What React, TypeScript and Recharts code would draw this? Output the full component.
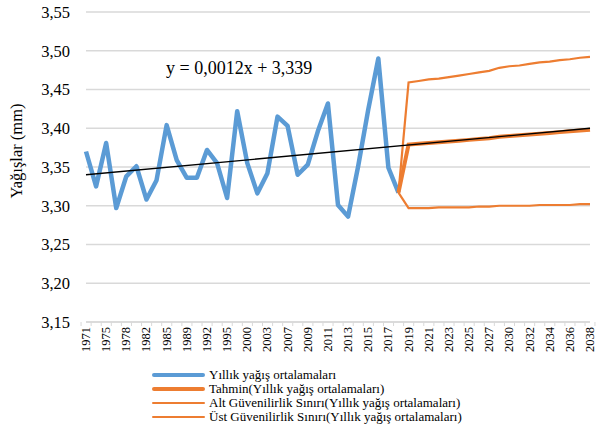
import { CartesianGrid, Line, LineChart, ReferenceLine, XAxis, YAxis } from "recharts";

const FONT = '"Liberation Serif", "Times New Roman", Times, "DejaVu Serif", serif';
const BLUE = "#5B9BD5";
const ORANGE = "#ED7D31";

// category labels (the historic series skips some years)
const years = [
  "1971", "1973", "1975", "1977", "1978", "1980", "1982", "1984", "1985", "1987",
  "1989", "1990", "1992", "1994", "1995", "1998", "2000", "2002", "2003", "2005",
  "2007", "2008", "2009", "2010", "2011", "2012", "2013", "2014", "2015", "2016",
  "2017", "2018", "2019", "2020", "2021", "2022", "2023", "2024", "2025", "2026",
  "2027", "2028", "2030", "2031", "2032", "2033", "2034", "2035", "2036", "2037",
  "2038",
];

// Yıllık yağış ortalamaları (1971..2018)
const observed = [
  3.370, 3.325, 3.381, 3.297, 3.338, 3.351, 3.308, 3.333, 3.404, 3.359,
  3.336, 3.336, 3.372, 3.355, 3.310, 3.422, 3.355, 3.316, 3.342, 3.415,
  3.403, 3.340, 3.353, 3.396, 3.432, 3.301, 3.286, 3.351, 3.424, 3.490,
  3.349, 3.317,
];

// forecast series start at the last observed year (2018)
const forecast = [
  3.317, 3.379, 3.380, 3.381, 3.382, 3.383, 3.384, 3.385, 3.386, 3.387,
  3.389, 3.390, 3.391, 3.392, 3.393, 3.394, 3.395, 3.396, 3.397, 3.398,
];
const lowerBound = [
  3.317, 3.297, 3.297, 3.297, 3.298, 3.298, 3.298, 3.298, 3.299, 3.299,
  3.300, 3.300, 3.300, 3.300, 3.301, 3.301, 3.301, 3.301, 3.302, 3.302,
];
const upperBound = [
  3.317, 3.459, 3.461, 3.463, 3.464, 3.466, 3.468, 3.470, 3.472, 3.474,
  3.478, 3.480, 3.481, 3.483, 3.485, 3.486, 3.488, 3.489, 3.491, 3.492,
];

// linear trend y = 0,0012x + 3,339 at first and last category
const trendEnds = [3.340, 3.400];
const yTicks = [3.15, 3.2, 3.25, 3.3, 3.35, 3.4, 3.45, 3.5, 3.55];

const forecastStart = observed.length - 1;
const data = years.map((year, i) => ({
  year,
  observed: i < observed.length ? observed[i] : null,
  forecast: i >= forecastStart ? forecast[i - forecastStart] : null,
  lower: i >= forecastStart ? lowerBound[i - forecastStart] : null,
  upper: i >= forecastStart ? upperBound[i - forecastStart] : null,
}));

const legendItems = [
  { name: "Yıllık yağış ortalamaları", color: BLUE, width: 4 },
  { name: "Tahmin(Yıllık yağış ortalamaları)", color: ORANGE, width: 4 },
  { name: "Alt Güvenilirlik Sınırı(Yıllık yağış ortalamaları)", color: ORANGE, width: 2.5 },
  { name: "Üst Güvenilirlik Sınırı(Yıllık yağış ortalamaları)", color: ORANGE, width: 2.5 },
];

function YearTick(props: any) {
  const { x, y, payload, index } = props;
  const off = payload?.offset || 4.94;
  const last = index === years.length - 1;
  return (
    <g>
      <line x1={x - off} x2={x - off} y1={y} y2={y + 4} stroke="#D9D9D9" />
      {last && <line x1={x + off} x2={x + off} y1={y} y2={y + 4} stroke="#D9D9D9" />}
      {index % 2 === 0 && (
        <text
          x={x}
          y={y + 5}
          transform={`rotate(-90, ${x}, ${y + 5})`}
          textAnchor="end"
          dominantBaseline="central"
          fontSize={12.5}
          fontFamily={FONT}
          fill="#000"
        >
          {payload.value}
        </text>
      )}
    </g>
  );
}

function YTitle() {
  return (
    <text
      x={16}
      y={151}
      transform="rotate(-90, 16, 151)"
      textAnchor="middle"
      dominantBaseline="central"
      fontSize={16.5}
      fontFamily={FONT}
      fill="#000"
    >
      Yağışlar (mm)
    </text>
  );
}

export default function App() {
  return (
    <div style={{ position: "absolute", left: 0, top: 0, width: 596, height: 426, background: "#fff", fontFamily: FONT }}>
      <LineChart width={596} height={362} data={data} margin={{ top: 12, right: 6, bottom: 0, left: 0 }}>
        <CartesianGrid vertical={false} stroke="#D9D9D9" strokeWidth={1.3} />
        <XAxis
          dataKey="year"
          interval={0}
          height={40}
          tickLine={false}
          tickSize={0}
          tickMargin={0}
          axisLine={{ stroke: "#D9D9D9", strokeWidth: 1.3 }}
          tick={<YearTick />}
        />
        <YAxis
          domain={[3.15, 3.55]}
          ticks={yTicks}
          width={86}
          axisLine={false}
          tickLine={false}
          tickSize={0}
          tickMargin={16}
          tickFormatter={(v: number) => v.toFixed(2).replace(".", ",")}
          tick={{ fontSize: 16.5, fontFamily: FONT, fill: "#000" }}
          label={<YTitle />}
        />
        <Line dataKey="observed" stroke={BLUE} strokeWidth={4.5} dot={false} isAnimationActive={false} strokeLinejoin="round" />
        <Line dataKey="lower" stroke={ORANGE} strokeWidth={2.2} dot={false} isAnimationActive={false} />
        <Line dataKey="upper" stroke={ORANGE} strokeWidth={2.2} dot={false} isAnimationActive={false} />
        <Line dataKey="forecast" stroke={ORANGE} strokeWidth={4} dot={false} isAnimationActive={false} />
        <ReferenceLine
          segment={[
            { x: years[0], y: trendEnds[0] },
            { x: years[years.length - 1], y: trendEnds[1] },
          ]}
          stroke="#000"
          strokeWidth={1.3}
        />
      </LineChart>
      <div style={{ position: "absolute", left: 166, top: 58, fontSize: 18, whiteSpace: "nowrap" }}>
        y = 0,0012x + 3,339
      </div>
      <div style={{ position: "absolute", left: 152, top: 368 }}>
        {legendItems.map((it) => (
          <div key={it.name} style={{ display: "flex", alignItems: "center", height: 14 }}>
            <div style={{ width: 53, height: it.width, background: it.color, borderRadius: 2, marginRight: 4 }} />
            <span style={{ fontSize: 13, lineHeight: "14px", whiteSpace: "nowrap" }}>{it.name}</span>
          </div>
        ))}
      </div>
    </div>
  );
}
